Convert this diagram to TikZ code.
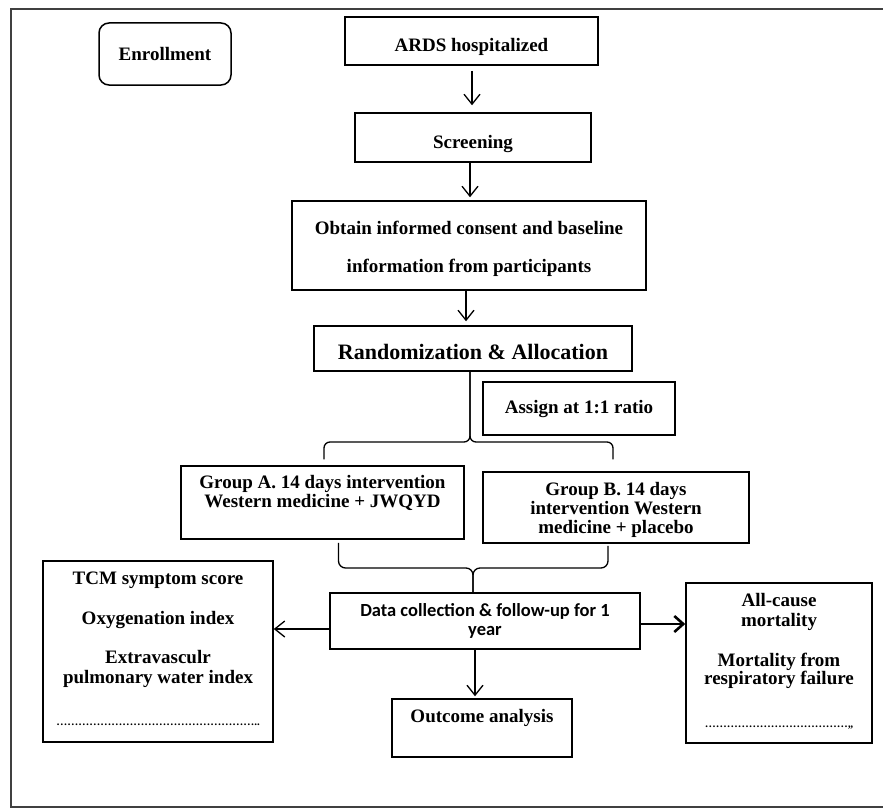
\documentclass[tikz,border=0pt]{standalone}
\usepackage{fontspec}
\setmainfont{Liberation Serif}
\newfontfamily\calfont{Carlito}
\usetikzlibrary{arrows.meta,calc}
\newcommand{\bxt}[4]{\parbox[c][#1pt][t]{#2pt}{\centering\vspace*{#3pt}\strut #4}}
\newcommand{\dotsrow}[1]{{\fontsize{11}{20}\selectfont #1}}
\begin{document}
\begin{tikzpicture}[x=1pt,y=-1pt,
  box/.style={draw, line width=1.5pt, inner sep=0pt, font=\fontsize{19}{19}\selectfont\bfseries},
  conn/.style={line width=1.3pt},
  arr/.style={conn, -{Straight Barb[length=10pt,width=16pt]}},
  arrthick/.style={line width=2.6pt, -{Straight Barb[length=9pt,width=16pt]}}]
\useasboundingbox (0,0) rectangle (883,808);
% outer frame
\draw[line width=1.5pt, black!75] (11,9) rectangle (900,807);

\node[box, rounded corners=10pt] (enroll) at (165,54) {\bxt{62}{132}{24.7}{Enrollment}};
\node[box] (ards) at (471.5,41) {\bxt{48}{253}{21.3}{ARDS hospitalized}};
\node[box] (screen) at (473,137.5) {\bxt{49}{236}{21.7}{Screening}};
\node[box, font=\fontsize{19}{38.4}\selectfont\bfseries] (consent) at (469,245.5)
  {\bxt{89}{354}{6.7}{Obtain informed consent and baseline\\ information from participants}};
\node[box, font=\fontsize{22}{22}\selectfont\bfseries] (rand) at (473,348.5) {\bxt{45}{318}{17.6}{Randomization \& Allocation}};
\node[box] (assign) at (579,408.5) {\bxt{53}{192}{18.2}{Assign at 1:1 ratio}};
\node[box] (groupA) at (322.5,502.5) {\bxt{73}{283}{9}{Group A. 14 days intervention\\ Western medicine + JWQYD}};
\node[box] (groupB) at (616,507.5) {\bxt{71}{266}{9.7}{Group B. 14 days\\ intervention Western\\ medicine + placebo}};
\node[box, font=\calfont\bfseries\fontsize{18.5}{19}\selectfont] (data) at (485,621) {\bxt{56}{310}{9.7}{Data collection \& follow-up for 1\\ year}};
\node[box, font=\fontsize{19}{20}\selectfont\bfseries] (tcm) at (158,651.5)
  {\bxt{181}{230}{9}{TCM symptom score\\[20pt] Oxygenation index\\[19pt] Extravasculr\\ pulmonary water index\\[22pt]
   \dotsrow{………………………………………………..}}};
\node[box, font=\fontsize{19}{18}\selectfont\bfseries] (mort) at (779,663)
  {\bxt{160}{186}{10.4}{All-cause\\ mortality\\[22pt] Mortality from\\ respiratory failure\\[25pt]
   \dotsrow{…………………………………,,}}};
\node[box] (outcome) at (482,728) {\bxt{58}{180}{10.3}{Outcome analysis}};

% vertical arrows
\coordinate (a1) at ($(ards.south)+(0.5,5)$);
\draw[arr] (a1) -- ($(a1 |- screen.north)+(0,-7)$);
\coordinate (a2) at ($(screen.south)+(-3,0)$);
\draw[arr] (a2) -- ($(a2 |- consent.north)+(0,-3)$);
\coordinate (a3) at ($(consent.south)+(-3,0)$);
\draw[arr] (a3) -- ($(a3 |- rand.north)+(0,-4)$);
\coordinate (a4) at ($(data.south)+(-10,0)$);
\draw[arr] (a4) -- ($(a4 |- outcome.north)+(0,-2)$);
% side arrows
\coordinate (dl) at ($(data.west)+(0,8)$);
\draw[arr] (dl) -- (dl -| tcm.east);
\coordinate (dr) at ($(data.east)+(0,3)$);
\draw[arrthick] (dr) -- (dr -| mort.west);

% upper brace
\coordinate (ubM) at ($(rand.south)+(-3,0)$);
\coordinate (ubL) at ($(groupA.north)+(1.5,-6)$);
\coordinate (ubR) at ($(groupB.north)+(-3,-12)$);
\draw[conn, rounded corners=6pt] (ubL) -- (ubL |- 0,442) -- (ubM |- 0,442) -- (ubM);
\draw[conn, rounded corners=6pt] (ubR) -- (ubR |- 0,442) -- (ubM |- 0,442) -- (ubM);

% lower brace
\coordinate (lbM) at ($(data.north)+(-12,0)$);
\coordinate (lbL) at ($(groupA.south)+(16,3)$);
\coordinate (lbR) at ($(groupB.south)+(-8,2)$);
\draw[conn, rounded corners=7pt] (lbL) -- (lbL |- 0,568) -- (lbM |- 0,568) -- (lbM);
\draw[conn, rounded corners=7pt] (lbR) -- (lbR |- 0,568) -- (lbM |- 0,568) -- (lbM);
\end{tikzpicture}
\end{document}
